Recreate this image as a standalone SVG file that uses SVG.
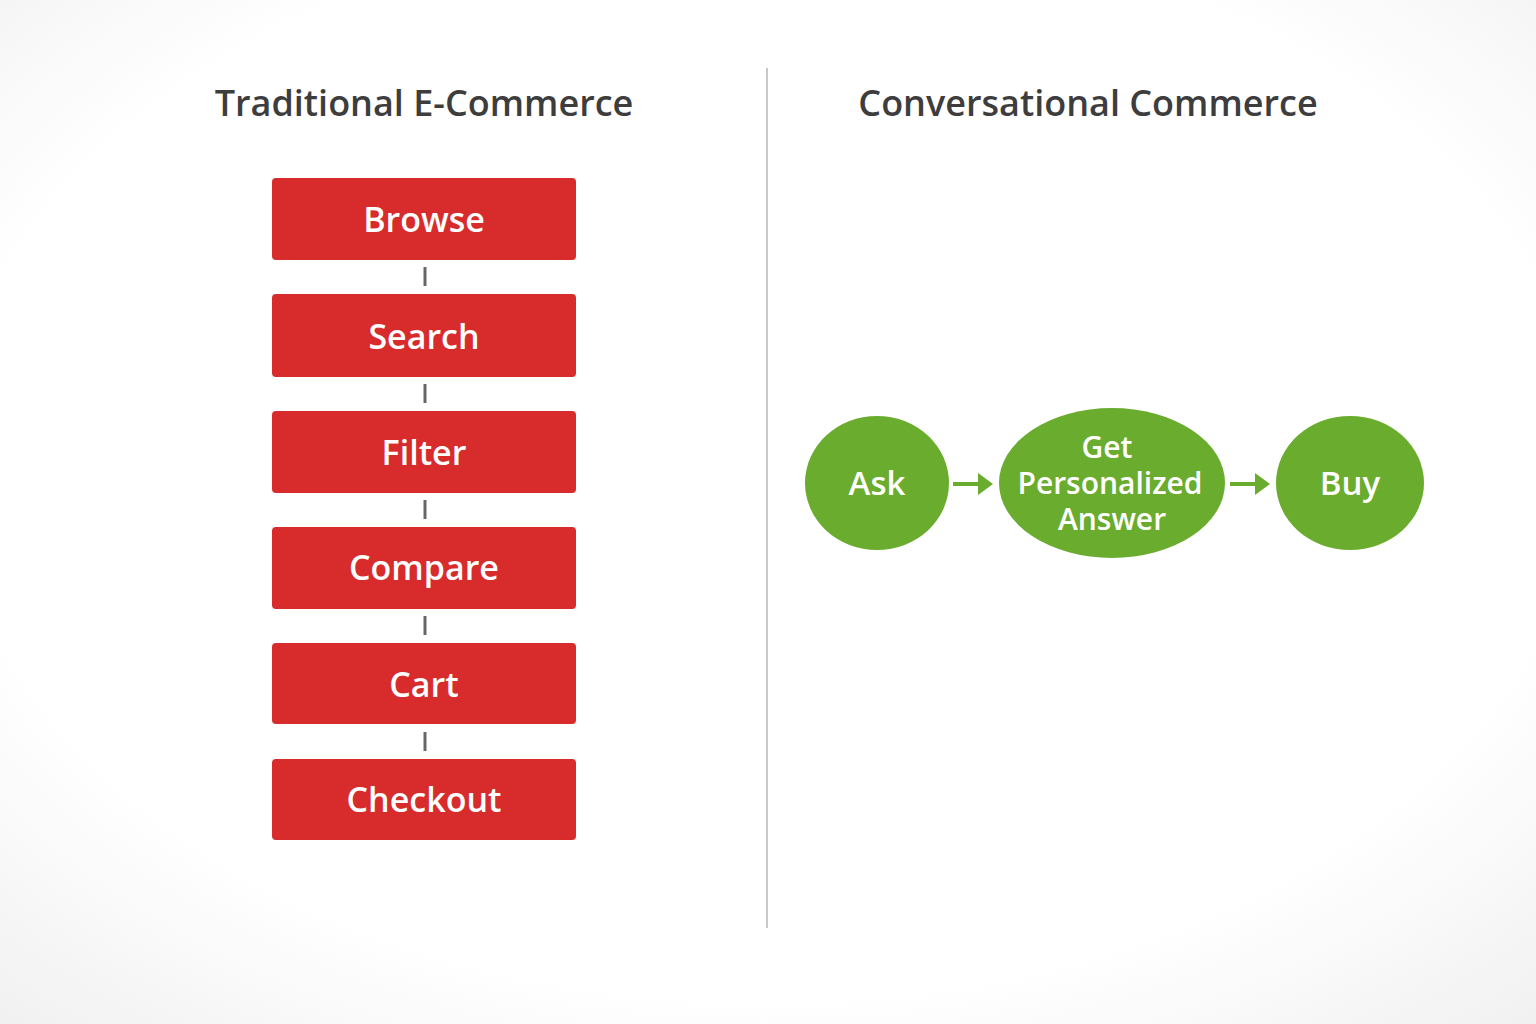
<svg xmlns="http://www.w3.org/2000/svg" width="1536" height="1024" viewBox="0 0 1536 1024">
<defs>
<radialGradient id="bg" cx="50%" cy="45%" r="75%"><stop offset="0.7" stop-color="#ffffff"/><stop offset="1" stop-color="#f0f0f0"/></radialGradient>
<style>
.t{font-family:"Open Sans","Noto Sans",sans-serif;font-weight:600;fill:#3d3d3d;font-size:36px;text-anchor:middle}
.box{fill:#d82b2b}
.bl{font-family:"Open Sans","Noto Sans",sans-serif;font-weight:600;fill:#fff;font-size:34px;text-anchor:middle;dominant-baseline:central}
.c{fill:#6aac2e}
.cl{font-family:"Open Sans","Noto Sans",sans-serif;font-weight:600;fill:#fff;font-size:33px;text-anchor:middle;dominant-baseline:central}
.cs{font-family:"Open Sans","Noto Sans",sans-serif;font-weight:600;fill:#fff;font-size:30px;text-anchor:middle;dominant-baseline:central}
.dash{stroke:#666;stroke-width:3}
.arr{stroke:#6aac2e;stroke-width:4;fill:none}
.head{fill:#6aac2e}
</style>
</defs>
<rect width="1536" height="1024" fill="url(#bg)"/>
<line x1="767" y1="68" x2="767" y2="928" stroke="#c8c8c8" stroke-width="2"/>
<text class="t" x="424" y="116">Traditional E-Commerce</text>
<text class="t" x="1088" y="116">Conversational Commerce</text>
<g id="connectors">
<line class="dash" x1="425" y1="267" x2="425" y2="286"/>
<line class="dash" x1="425" y1="384" x2="425" y2="403"/>
<line class="dash" x1="425" y1="500" x2="425" y2="519"/>
<line class="dash" x1="425" y1="616" x2="425" y2="635"/>
<line class="dash" x1="425" y1="732" x2="425" y2="751"/>
<line class="arr" x1="953" y1="484" x2="982" y2="484"/>
<polygon class="head" points="978,473 993,484 978,495"/>
<line class="arr" x1="1230" y1="484" x2="1259" y2="484"/>
<polygon class="head" points="1255,473 1270,484 1255,495"/>
</g>
<g id="browse"><rect class="box" x="272" y="178" width="304" height="82" rx="4"/><text class="bl" x="424" y="219">Browse</text></g>
<g id="search"><rect class="box" x="272" y="294" width="304" height="83" rx="4"/><text class="bl" x="424" y="336">Search</text></g>
<g id="filter"><rect class="box" x="272" y="411" width="304" height="82" rx="4"/><text class="bl" x="424" y="452">Filter</text></g>
<g id="compare"><rect class="box" x="272" y="527" width="304" height="82" rx="4"/><text class="bl" x="424" y="567">Compare</text></g>
<g id="cart"><rect class="box" x="272" y="643" width="304" height="81" rx="4"/><text class="bl" x="424" y="684">Cart</text></g>
<g id="checkout"><rect class="box" x="272" y="759" width="304" height="81" rx="4"/><text class="bl" x="424" y="799">Checkout</text></g>
<g id="ask"><ellipse class="c" cx="877" cy="483" rx="72" ry="67"/><text class="cl" x="877" y="482">Ask</text></g>
<g id="answer"><ellipse class="c" cx="1112" cy="483" rx="113" ry="75"/><text class="cs" x="1107" y="446">Get</text><text class="cs" x="1110" y="482">Personalized</text><text class="cs" x="1112" y="518">Answer</text></g>
<g id="buy"><ellipse class="c" cx="1350" cy="483" rx="74" ry="67"/><text class="cl" x="1350" y="482">Buy</text></g>
</svg>
